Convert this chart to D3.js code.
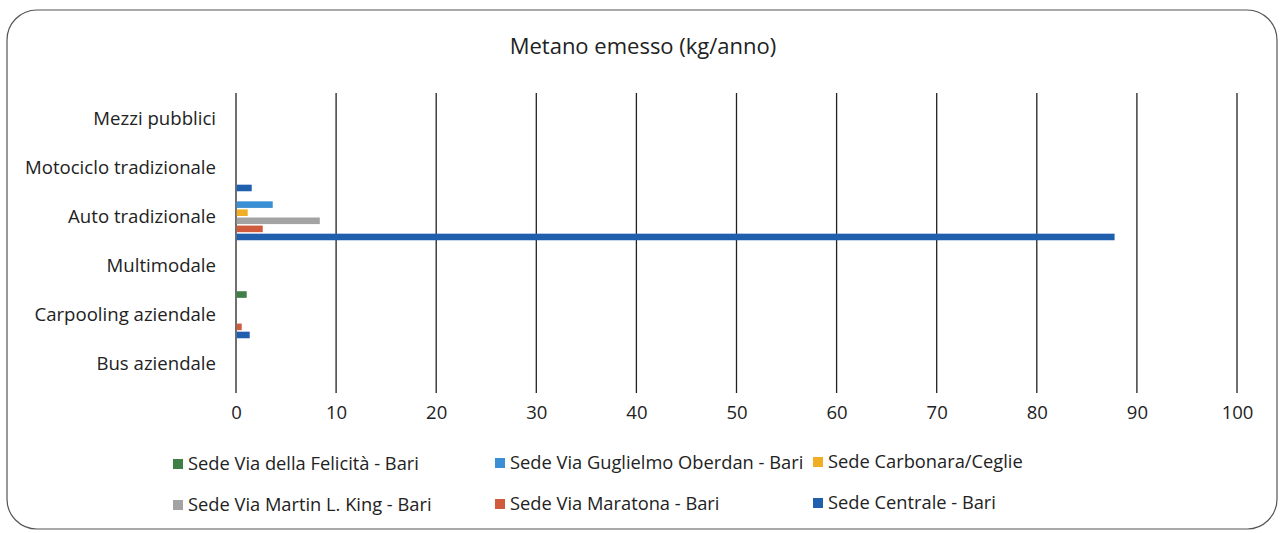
<!DOCTYPE html>
<html>
<head>
<meta charset="utf-8">
<script src="https://cdn.jsdelivr.net/npm/d3@7"></script>
<style>
  body { margin: 0; background: #fff; }
  svg { font-family: "Open Sans", Lato, sans-serif; }
</style>
</head>
<body>
<svg id="chart" width="1280" height="533"></svg>
<script>
// categories, top to bottom as drawn
const categories = ['Mezzi pubblici', 'Motociclo tradizionale', 'Auto tradizionale',
  'Multimodale', 'Carpooling aziendale', 'Bus aziendale'];

const seriesNames = ['Sede Via della Felicità - Bari', 'Sede Via Guglielmo Oberdan - Bari',
  'Sede Carbonara/Ceglie', 'Sede Via Martin L. King - Bari', 'Sede Via Maratona - Bari',
  'Sede Centrale - Bari'];

const seriesColors = ['#3d7f45', '#3b8fd4', '#f0ae25', '#a3a3a3', '#cf5a3c', '#1f5fae'];

// values per series, same order as categories
const felicita  = [0, 0, 0,   0, 1.0, 0];
const oberdan   = [0, 0, 3.6, 0, 0,   0];
const carbonara = [0, 0, 1.1, 0, 0,   0];
const king      = [0, 0, 8.3, 0, 0,   0];
const maratona  = [0, 0, 2.6, 0, 0.5, 0];
const centrale  = [0, 1.5, 87.7, 0, 1.3, 0];

const xTicks = [0, 10, 20, 30, 40, 50, 60, 70, 80, 90, 100];

const allSeries = [felicita, oberdan, carbonara, king, maratona, centrale];

const svg = d3.select('#chart');

// rounded frame
svg.append('rect')
  .attr('x', 7).attr('y', 10)
  .attr('width', 1270).attr('height', 519)
  .attr('rx', 30).attr('ry', 30)
  .attr('fill', '#fff')
  .attr('stroke', '#555')
  .attr('stroke-width', 1.2);

// title
svg.append('text')
  .attr('x', 643).attr('y', 54)
  .attr('text-anchor', 'middle')
  .style('font-size', '22px')
  .style('fill', '#222')
  .text('Metano emesso (kg/anno)');

const x = d3.scaleLinear().domain([0, 100]).range([236, 1237]);
const y = d3.scaleBand().domain(categories).range([95, 389]).paddingInner(0).paddingOuter(0);
const inner = d3.scaleBand().domain(d3.range(seriesNames.length))
  .range([0, y.bandwidth()]).paddingOuter(0.03);

// vertical gridlines
svg.append('g')
  .selectAll('line')
  .data(xTicks)
  .join('line')
  .attr('x1', d => x(d)).attr('x2', d => x(d))
  .attr('y1', 93).attr('y2', 393)
  .attr('stroke', '#222')
  .attr('stroke-width', 1.3);

// x axis labels
const xAxis = d3.axisBottom(x).tickValues(xTicks).tickSize(0).tickPadding(0);
const gx = svg.append('g').attr('transform', 'translate(0,402)').call(xAxis);
gx.select('.domain').remove();
gx.selectAll('text')
  .attr('dy', '0.9em')
  .style('font-size', '18.5px')
  .style('font-family', '"Open Sans", Lato, sans-serif')
  .style('fill', '#222');

// category labels
const yAxis = d3.axisLeft(y).tickSize(0).tickPadding(0);
const gy = svg.append('g').attr('transform', 'translate(216,0)').call(yAxis);
gy.select('.domain').remove();
gy.selectAll('text')
  .style('font-size', '18.6px')
  .style('font-family', '"Open Sans", Lato, sans-serif')
  .style('fill', '#222');

// bars
allSeries.forEach((vals, si) => {
  svg.append('g')
    .selectAll('rect')
    .data(vals.map((v, ci) => ({ v, c: categories[ci] })).filter(d => d.v > 0))
    .join('rect')
    .attr('x', x(0) + 0.7)
    .attr('y', d => y(d.c) + inner(si))
    .attr('width', d => x(d.v) - x(0))
    .attr('height', inner.bandwidth() - 1.5)
    .attr('fill', seriesColors[si]);
});

// legend
const legendPos = [[173, 470], [495, 469], [813, 468], [173, 511], [495, 510], [813, 509]];
const legend = svg.append('g')
  .selectAll('g')
  .data(seriesNames)
  .join('g')
  .attr('transform', (d, i) => `translate(${legendPos[i][0]},${legendPos[i][1]})`);
legend.append('rect')
  .attr('x', 0).attr('y', -11)
  .attr('width', 10).attr('height', 10)
  .attr('fill', (d, i) => seriesColors[i]);
legend.append('text')
  .attr('x', 15).attr('y', 0)
  .style('font-size', '18.3px')
  .style('fill', '#222')
  .text(d => d);
</script>
</body>
</html>
